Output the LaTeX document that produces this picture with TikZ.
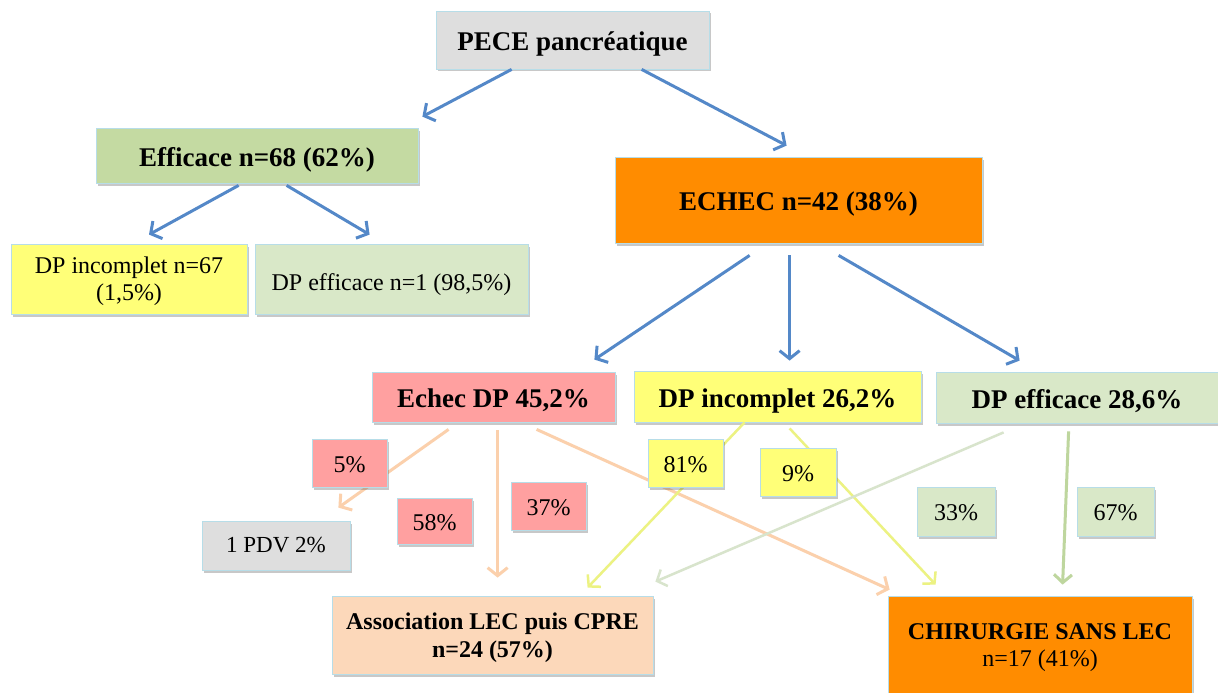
\documentclass[tikz,border=0pt]{standalone}
\usepackage{fontspec}
\setmainfont{Liberation Serif}
\usetikzlibrary{arrows.meta,shadows,calc}

\definecolor{arrowblue}{RGB}{84,136,200}
\definecolor{boxborder}{RGB}{183,221,232}
\definecolor{graybox}{RGB}{222,222,222}
\definecolor{greenbox}{RGB}{196,218,162}
\definecolor{lightgreen}{RGB}{217,232,200}
\definecolor{yellowbox}{RGB}{255,255,120}
\definecolor{orangebox}{RGB}{255,140,0}
\definecolor{pinkbox}{RGB}{255,160,160}
\definecolor{peachbox}{RGB}{252,216,186}
\definecolor{peachline}{RGB}{251,208,172}
\definecolor{yellowline}{RGB}{236,242,130}
\definecolor{paleline}{RGB}{216,228,204}
\definecolor{greenline}{RGB}{190,214,158}

\begin{document}
\begin{tikzpicture}[x=1pt,y=-1pt,
  box/.style={draw=boxborder, line width=0.8pt, inner sep=0pt, align=center, text=black,
    drop shadow={shadow xshift=1.5pt, shadow yshift=-2.5pt, opacity=0.3, fill=black!70}},
  big/.style={font=\fontsize{27}{31}\selectfont\bfseries, text height=21pt, text depth=0pt},
  mid/.style={font=\fontsize{24}{28}\selectfont\bfseries},
  reg/.style={font=\fontsize{24}{27}\selectfont},
  lbl/.style={box, reg, minimum width=75pt, minimum height=48pt, text height=18pt, text depth=0pt},
  bluearrow/.style={draw=arrowblue, line width=3pt, -{Straight Barb[length=8pt,width=20pt]}},
  peacharrow/.style={draw=peachline, line width=3pt, -{Straight Barb[length=8pt,width=20pt]}},
  yellowarrow/.style={draw=yellowline, line width=2.5pt, -{Straight Barb[length=8pt,width=18pt]}},
  palearrow/.style={draw=paleline, line width=2.5pt, -{Straight Barb[length=8pt,width=18pt]}},
  greenarrow/.style={draw=greenline, line width=3pt, -{Straight Barb[length=8pt,width=18pt]}}
]
\useasboundingbox (0,0) rectangle (1218,693);
\fill[white] (0,0) rectangle (1218,693);

% main boxes
\node[box, big, fill=graybox, minimum width=273pt, minimum height=58pt] (pece) at (572.5,40) {PECE pancréatique};
\node[box, big, fill=greenbox, minimum width=322pt, minimum height=55pt] (eff) at (257,155.5) {Efficace n=68 (62\%)};
\node[box, reg, text depth=0pt, fill=yellowbox, minimum width=236pt, minimum height=70pt] (dpinc1) at (129,279) {DP incomplet n=67\\(1,5\%)};
\node[box, reg, text height=22pt, text depth=0pt, fill=lightgreen, minimum width=273pt, minimum height=70pt] (dpeff1) at (391.5,279) {DP efficace n=1 (98,5\%)};
\node[box, big, fill=orangebox, minimum width=367pt, minimum height=86pt] (echec) at (798.5,200) {ECHEC n=42 (38\%)};
\node[box, big, fill=pinkbox, minimum width=243pt, minimum height=50pt] (echecdp) at (493.5,397) {Echec DP 45,2\%};
\node[box, big, fill=yellowbox, minimum width=287pt, minimum height=51pt] (dpinc2) at (777.5,396.5) {DP incomplet 26,2\%};
\node[box, big, fill=lightgreen, minimum width=282pt, minimum height=51pt] (dpeff2) at (1077,397.5) {DP efficace 28,6\%};
\node[box, font=\fontsize{23}{27}\selectfont, fill=graybox, minimum width=148pt, minimum height=49pt] (pdv) at (276,545.5) {1 PDV 2\%};
\node[box, mid, text depth=0pt, fill=peachbox, minimum width=321pt, minimum height=78pt] (assoc) at (492.5,635) {Association LEC puis CPRE\\n=24 (57\%)};
\node[box, reg, text depth=0pt, fill=orangebox, minimum width=304pt, minimum height=99pt] (chir) at (1040,645.5) {\textbf{CHIRURGIE SANS LEC}\\n=17 (41\%)};

% blue arrows
\draw[bluearrow] ($(pece.south west)+(76,0)$) -- ($(eff.north east)+(4,-11)$);
\draw[bluearrow] ($(pece.south west)+(206,0)$) -- ($(echec.north west)+(172,-11)$);
\draw[bluearrow] ($(eff.south west)+(143,2)$) -- ($(dpinc1.north)+(20,-9)$);
\draw[bluearrow] ($(eff.south west)+(191,2)$) -- ($(dpeff1.north west)+(115,-9)$);
\draw[bluearrow] ($(echec.south west)+(135,12)$) -- ($(echecdp.north east)+(-21,-12)$);
\draw[bluearrow] ($(echec.south west)+(175,12)$) -- ($(dpinc2.north west)+(156,-10)$);
\draw[bluearrow] ($(echec.south west)+(224,12)$) -- ($(dpeff2.north west)+(84,-11)$);

% lower arrows
\draw[peacharrow] ($(echecdp.south west)+(77,7)$) -- ($(pdv.north east)+(-12,-13)$);
\draw[peacharrow] ($(echecdp.south west)+(126,8)$) -- ($(assoc.north west)+(166,-18)$);
\draw[peacharrow] ($(echecdp.south west)+(165,7)$) -- ($(chir.north west)+(2,-6)$);
\draw[yellowarrow] ($(dpinc2.south west)+(111,0)$) -- ($(assoc.north west)+(256,-8)$);
\draw[yellowarrow] ($(dpinc2.south west)+(156,6)$) -- ($(chir.north west)+(48,-11)$);
\draw[palearrow] ($(dpeff2.south west)+(68,9)$) -- ($(assoc.north east)+(2,-14)$);
\draw[greenarrow] ($(dpeff2.south west)+(133,8)$) -- ($(chir.north west)+(175,-11)$);

% percentage labels
\node[lbl, fill=pinkbox] (p5) at (349.5,463) {5\%};
\node[lbl, fill=pinkbox, minimum height=46pt] (p58) at (434.5,521) {58\%};
\node[lbl, fill=pinkbox] (p37) at (548.5,506) {37\%};
\node[lbl, fill=yellowbox] (p81) at (685.5,463) {81\%};
\node[lbl, fill=yellowbox, minimum width=76pt] (p9) at (798,472) {9\%};
\node[lbl, fill=lightgreen, minimum width=78pt, minimum height=49pt] (p33) at (956,511.5) {33\%};
\node[lbl, fill=lightgreen, minimum width=77pt, minimum height=49pt] (p67) at (1115.5,511.5) {67\%};
\end{tikzpicture}
\end{document}
